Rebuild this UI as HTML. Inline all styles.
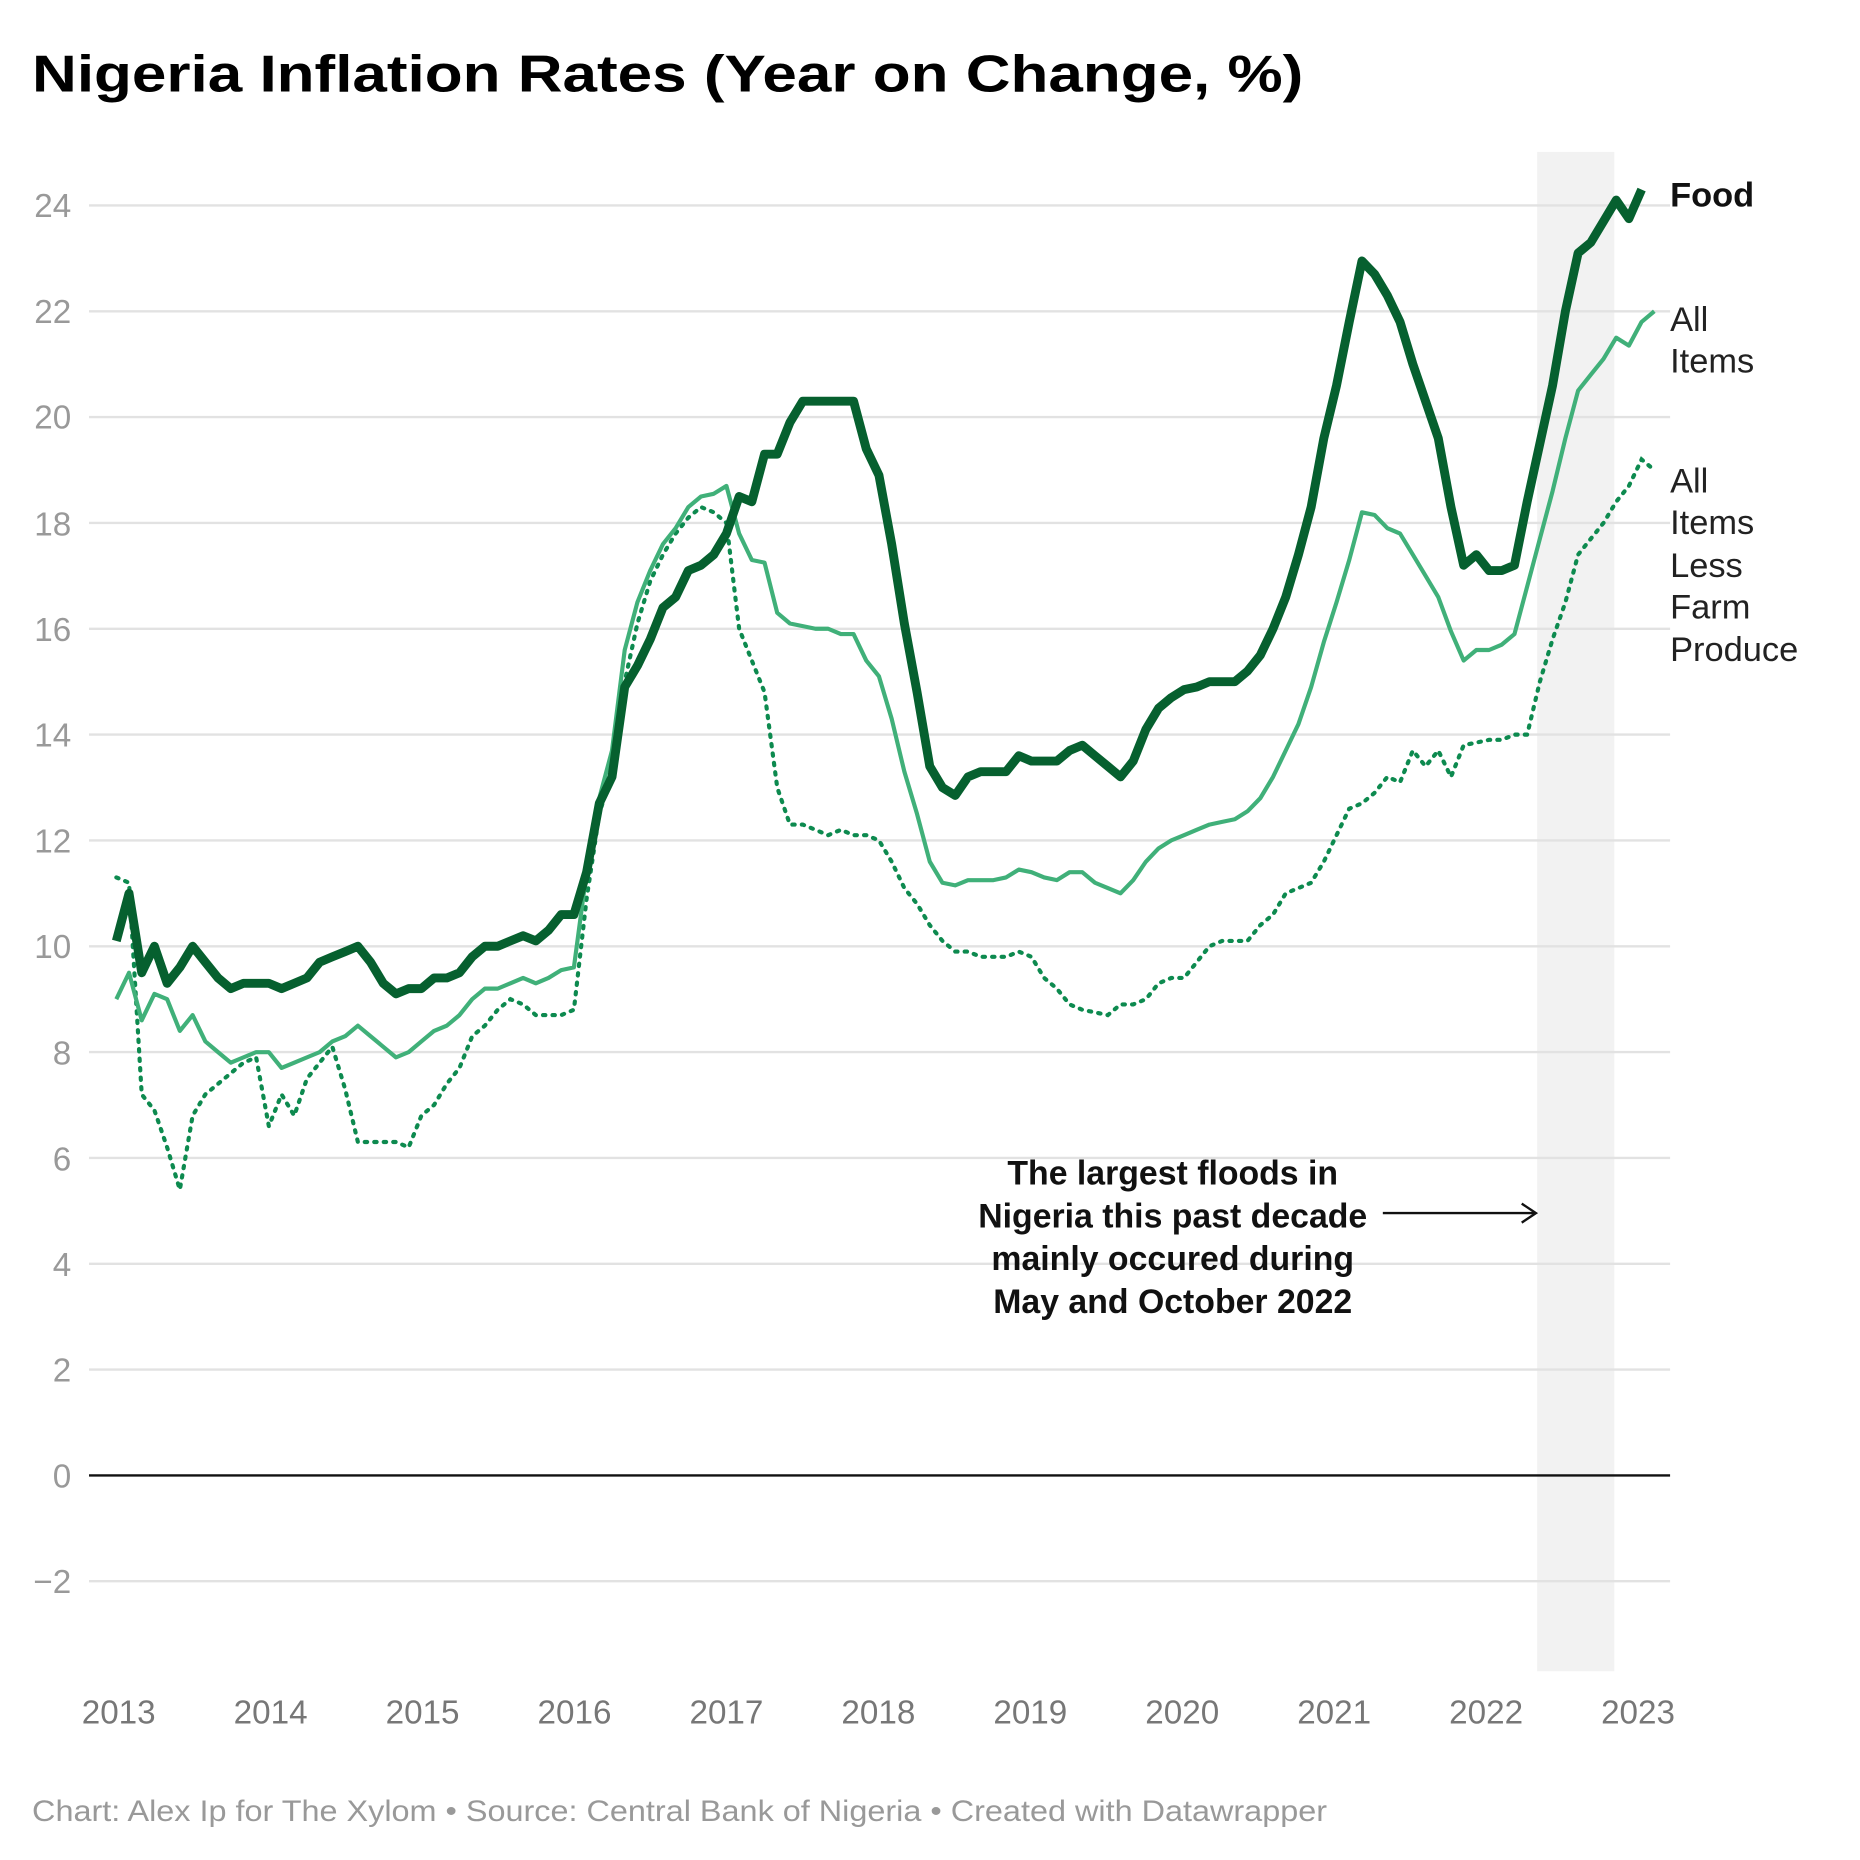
<!DOCTYPE html>
<html><head><meta charset="utf-8"><style>
html,body{margin:0;padding:0;background:#fff}
svg{display:block}
text{font-family:"Liberation Sans",sans-serif}
</style></head><body>
<svg id="s" width="1860" height="1860" viewBox="0 0 1567 1567" xmlns="http://www.w3.org/2000/svg">
<rect x="1295" y="128" width="65" height="1280" fill="#f2f2f2"/>
<g id="grid" stroke="#e2e2e2" stroke-width="2"></g>
<line x1="75" x2="1407" y1="1243" y2="1243" stroke="#111" stroke-width="2"/>
<g font-size="28" fill="#999" text-anchor="end">
<text x="60" y="183">24</text><text x="60" y="272">22</text><text x="60" y="361">20</text><text x="60" y="451">18</text><text x="60" y="540">16</text><text x="60" y="629">14</text><text x="60" y="718">12</text><text x="60" y="807">10</text><text x="60" y="897">8</text><text x="60" y="986">6</text><text x="60" y="1075">4</text><text x="60" y="1164">2</text><text x="60" y="1253">0</text><text x="60" y="1342">−2</text>
</g>
<g font-size="28" fill="#777" text-anchor="middle">
<text x="100" y="1452">2013</text><text x="228" y="1452">2014</text><text x="356" y="1452">2015</text><text x="484" y="1452">2016</text><text x="612" y="1452">2017</text><text x="740" y="1452">2018</text><text x="868" y="1452">2019</text><text x="996" y="1452">2020</text><text x="1124" y="1452">2021</text><text x="1252" y="1452">2022</text><text x="1380" y="1452">2023</text>
</g>
<path id="p3" fill="none" stroke="#0d8a4f" stroke-width="3.5" stroke-dasharray="2 6" stroke-linecap="round"/>
<path id="p2" fill="none" stroke="#40b079" stroke-width="3.5" stroke-linejoin="round"/>
<path id="p1" fill="none" stroke="#06602f" stroke-width="7.5" stroke-linejoin="round"/>
<text x="27" y="77" font-size="44" font-weight="bold" fill="#000" textLength="1071" lengthAdjust="spacingAndGlyphs">Nigeria Inflation Rates (Year on Change, %)</text>
<text x="1407" y="174" font-size="29" font-weight="bold" fill="#111">Food</text>
<g font-size="29" fill="#222">
<text x="1407" y="279">All</text><text x="1407" y="314">Items</text>
<text x="1407" y="415">All</text><text x="1407" y="450">Items</text><text x="1407" y="486">Less</text><text x="1407" y="521">Farm</text><text x="1407" y="557">Produce</text>
</g>
<g font-size="28.5" font-weight="bold" fill="#111" text-anchor="middle">
<text x="988" y="998">The largest floods in</text><text x="988" y="1034">Nigeria this past decade</text><text x="988" y="1070">mainly occured during</text><text x="988" y="1106">May and October 2022</text>
</g>
<line x1="1165" y1="1022" x2="1293" y2="1022" stroke="#111" stroke-width="2"/>
<path d="M1282 1014 L1294 1022 L1282 1030" fill="none" stroke="#111" stroke-width="2"/>
<text x="27" y="1534" font-size="25" fill="#999" textLength="1091" lengthAdjust="spacingAndGlyphs">Chart: Alex Ip for The Xylom • Source: Central Bank of Nigeria • Created with Datawrapper</text>
</svg>
<script>
var g=document.getElementById('grid');
for(var v=24;v>=-2;v-=2){if(v==0)continue;var y=1243-v*44.58;var l=document.createElementNS('http://www.w3.org/2000/svg','line');l.setAttribute('x1',75);l.setAttribute('x2',1407);l.setAttribute('y1',y);l.setAttribute('y2',y);g.appendChild(l);}
var food=[10.1,11.0,9.5,10.0,9.3,9.6,10.0,9.7,9.4,9.2,9.3,9.3, 9.3,9.2,9.3,9.4,9.7,9.8,9.9,10.0,9.7,9.3,9.1,9.2, 9.2,9.4,9.4,9.5,9.8,10.0,10.0,10.1,10.2,10.1,10.3,10.6, 10.6,11.4,12.7,13.2,14.9,15.3,15.8,16.4,16.6,17.1,17.2,17.4, 17.8,18.5,18.4,19.3,19.3,19.9,20.3,20.3,20.3,20.3,20.3,19.4, 18.9,17.6,16.1,14.8,13.4,13.0,12.85,13.2,13.3,13.3,13.3,13.6, 13.5,13.5,13.5,13.7,13.8,13.6,13.4,13.2,13.5,14.1,14.5,14.7, 14.85,14.9,15.0,15.0,15.0,15.2,15.5,16.0,16.6,17.4,18.3,19.6, 20.6,21.8,22.95,22.7,22.3,21.8,21.0,20.3,19.6,18.3,17.2,17.4, 17.1,17.1,17.2,18.4,19.5,20.6,22.0,23.1,23.3,23.7,24.1,23.75, 24.3];
var all=[9.0,9.5,8.6,9.1,9.0,8.4,8.7,8.2,8.0,7.8,7.9,8.0, 8.0,7.7,7.8,7.9,8.0,8.2,8.3,8.5,8.3,8.1,7.9,8.0, 8.2,8.4,8.5,8.7,9.0,9.2,9.2,9.3,9.4,9.3,9.4,9.55, 9.6,11.4,12.8,13.7,15.6,16.5,17.1,17.6,17.9,18.3,18.5,18.55, 18.7,17.8,17.3,17.25,16.3,16.1,16.05,16.0,16.0,15.9,15.9,15.4, 15.1,14.3,13.3,12.5,11.6,11.2,11.15,11.25,11.25,11.25,11.3,11.45, 11.4,11.3,11.25,11.4,11.4,11.2,11.1,11.0,11.25,11.6,11.85,12.0, 12.1,12.2,12.3,12.35,12.4,12.55,12.8,13.2,13.7,14.2,14.9,15.75, 16.5,17.3,18.2,18.15,17.9,17.8,17.4,17.0,16.6,15.95,15.4,15.6, 15.6,15.7,15.9,16.8,17.7,18.6,19.6,20.5,20.8,21.1,21.5,21.35, 21.8,22.0];
var less=[11.3,11.2,7.2,6.9,6.2,5.4,6.8,7.2,7.4,7.6,7.8,7.9, 6.6,7.2,6.8,7.5,7.8,8.1,7.3,6.3,6.3,6.3,6.3,6.2, 6.8,7.0,7.4,7.7,8.3,8.5,8.8,9.0,8.9,8.7,8.7,8.7, 8.8,10.9,12.5,13.3,15.0,16.1,16.9,17.4,17.8,18.1,18.3,18.2, 18.0,16.0,15.4,14.8,13.0,12.3,12.3,12.2,12.1,12.2,12.1,12.1, 12.0,11.6,11.1,10.8,10.4,10.1,9.9,9.9,9.8,9.8,9.8,9.9, 9.8,9.4,9.2,8.9,8.8,8.75,8.7,8.9,8.9,9.0,9.3,9.4, 9.4,9.7,10.0,10.1,10.1,10.1,10.4,10.6,11.0,11.1,11.2,11.6, 12.1,12.6,12.7,12.9,13.2,13.1,13.7,13.4,13.7,13.2,13.8,13.85, 13.9,13.9,14.0,14.0,15.0,15.8,16.5,17.4,17.7,18.0,18.4,18.7, 19.2,19.0];
function d(a){return a.map(function(v,i){return (i?'L':'M')+(98+i*128.5/12).toFixed(1)+' '+(1243-v*44.58).toFixed(1)}).join(' ');}
document.getElementById('p1').setAttribute('d',d(food));
document.getElementById('p2').setAttribute('d',d(all));
document.getElementById('p3').setAttribute('d',d(less));
</script>
</body></html>
